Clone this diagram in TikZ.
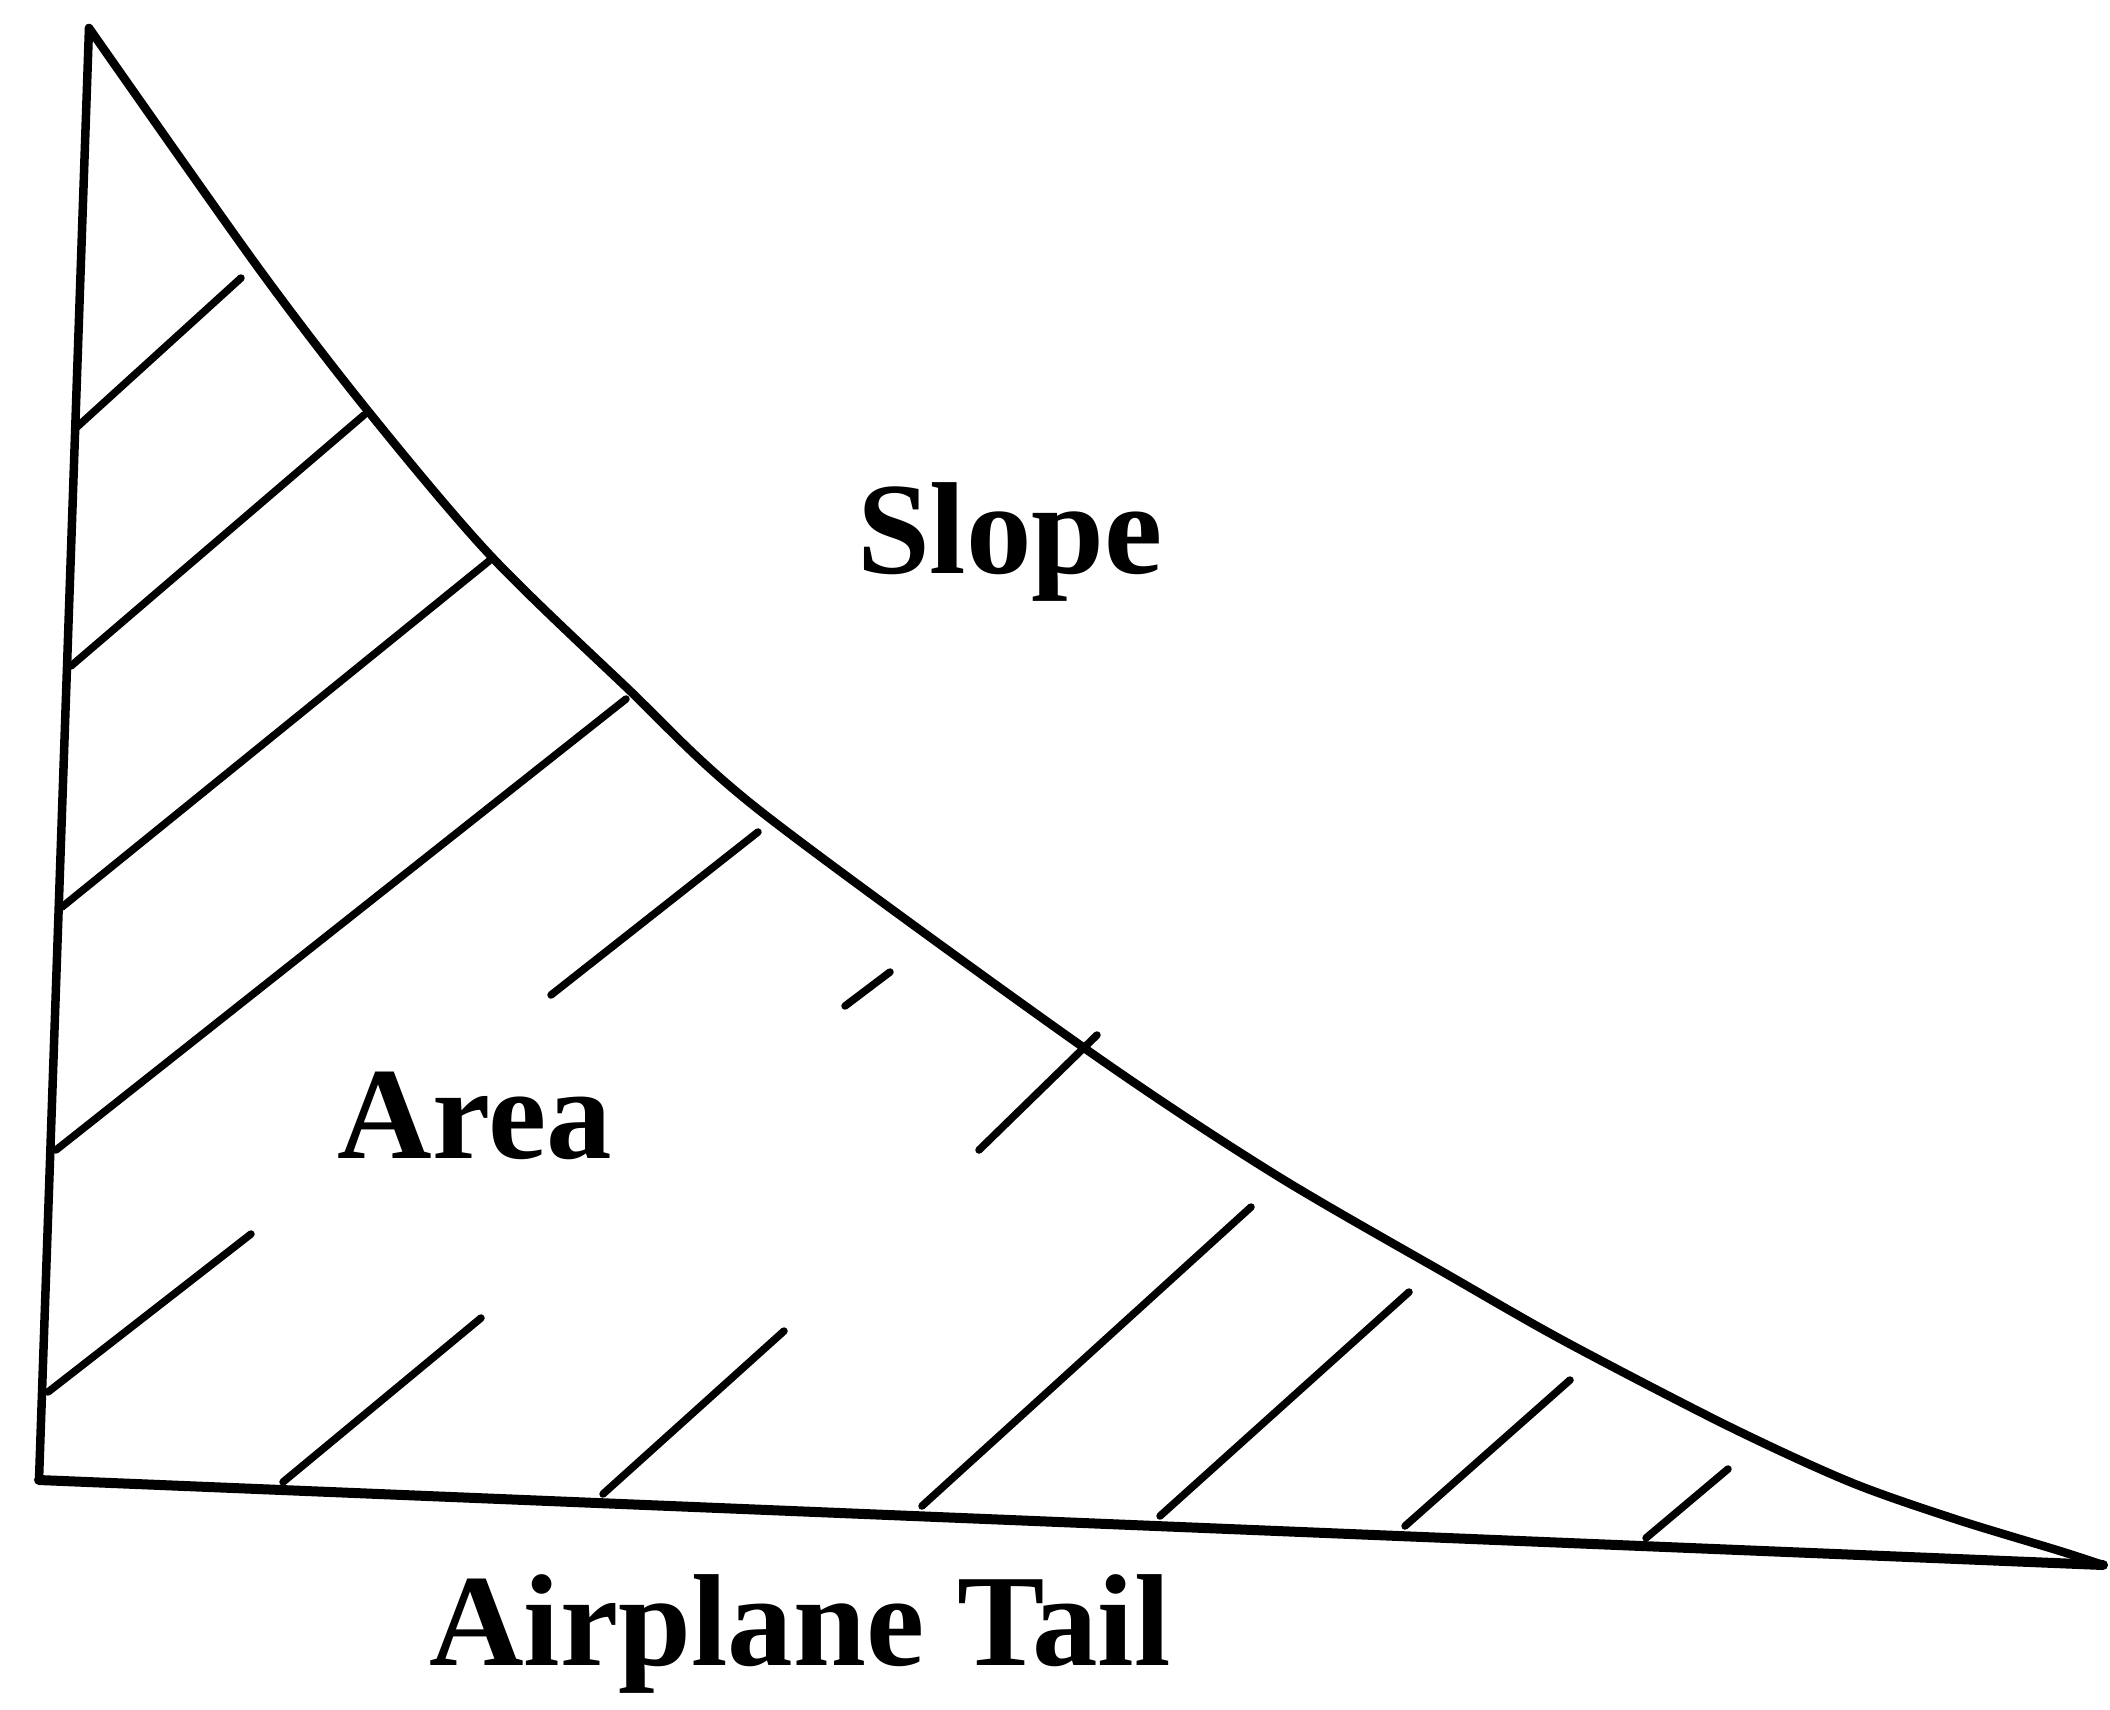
\documentclass[tikz,border=0pt]{standalone}
\usepackage{fontspec}
\setmainfont{Liberation Serif}
\begin{document}
\begin{tikzpicture}[x=1pt,y=-1pt,
  edge/.style={line width=8.5pt,line join=round,line cap=round},
  hatchline/.style={line width=7.5pt,line cap=round},
  lbl/.style={anchor=base,inner sep=0pt,font=\bfseries\fontsize{131}{150}\selectfont}]
\useasboundingbox[fill=white] (0,0) rectangle (2110,1709);
\coordinate (top) at (89,28);
\coordinate (bl) at (39,1480);
\coordinate (br) at (2103,1565);
% left edge
\draw[edge] (top) -- (bl);
% bottom edge
\draw[edge,line width=10pt] (bl) -- (br);
% curved slope
\draw[edge] plot[smooth,tension=0.5] coordinates {(89,28) (257,266) (368,411) (489,554) (625,686) (759,810) (1080,1045) (1271,1172) (1450,1276) (1566,1342) (1728,1426) (1850,1482) (1955,1519) (2060,1551) (2103,1565)};
% hatching
\draw[hatchline] (77,427) -- (241,278);
\draw[hatchline] (71,666) -- (364,415);
\draw[hatchline] (62,907) -- (489,561);
\draw[hatchline] (56,1150) -- (626,699);
\draw[hatchline] (551,995) -- (758,832);
\draw[hatchline] (845,1006) -- (890,972);
\draw[hatchline] (979,1150) -- (1097,1035);
\draw[hatchline] (48,1392) -- (251,1234);
\draw[hatchline] (283,1482) -- (481,1318);
\draw[hatchline] (603,1494) -- (784,1331);
\draw[hatchline] (922,1506) -- (1251,1207);
\draw[hatchline] (1160,1516) -- (1409,1292);
\draw[hatchline] (1405,1526) -- (1570,1380);
\draw[hatchline] (1646,1538) -- (1728,1469);
% labels
\node[lbl] (slope) at (1010,573) {Slope};
\node[lbl] (area) at (475,1158) {Area};
\node[lbl] (tail) at (800,1665) {Airplane Tail};
\end{tikzpicture}
\end{document}
